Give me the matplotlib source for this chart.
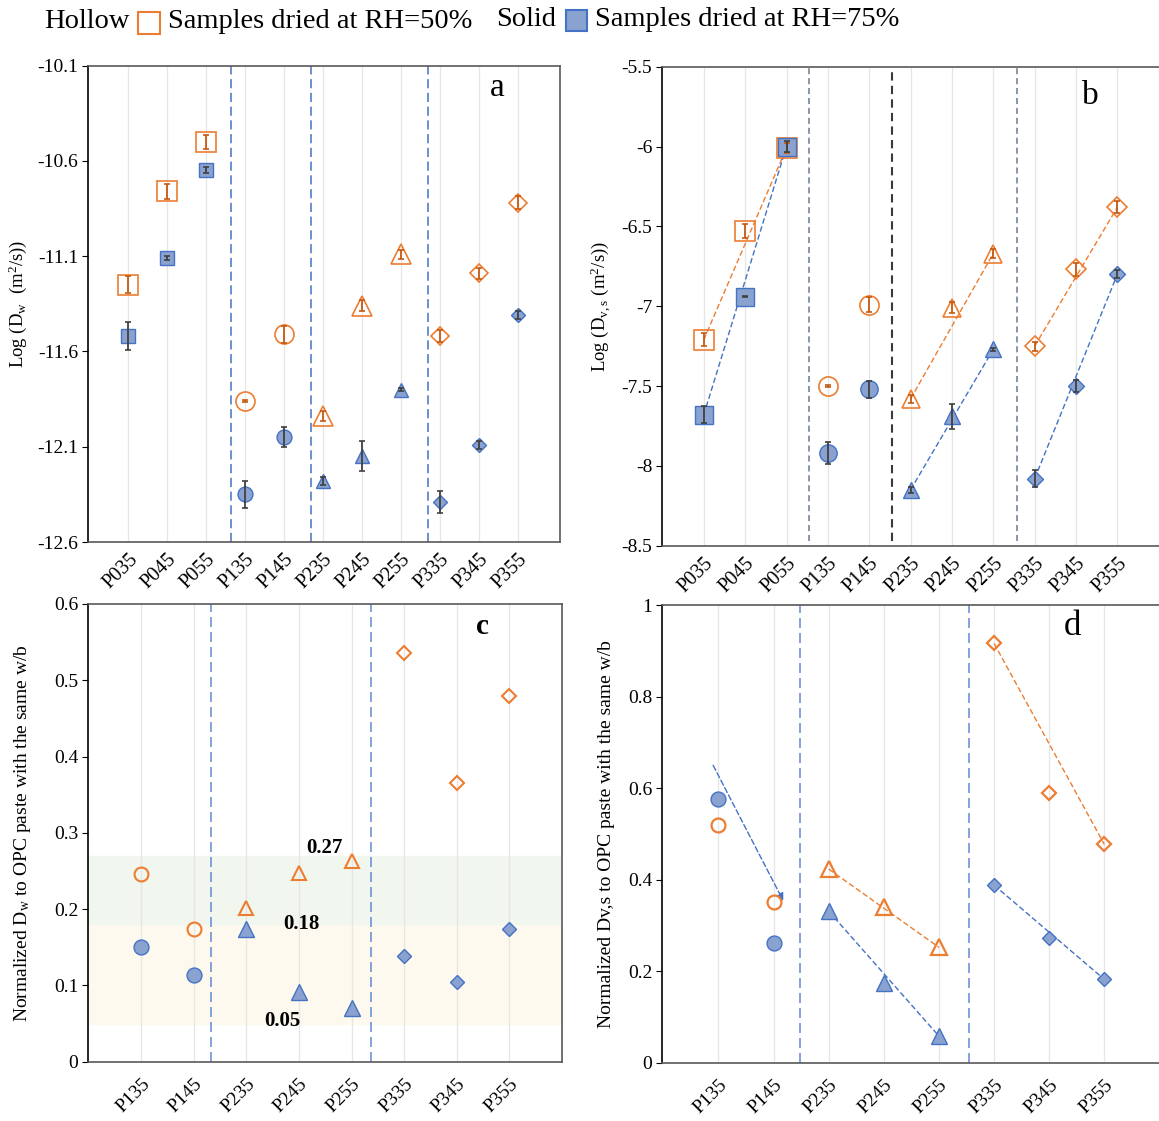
import numpy as np
import matplotlib
matplotlib.use('Agg')
import matplotlib.pyplot as plt
from matplotlib.patches import Rectangle, FancyArrowPatch
from matplotlib.ticker import FormatStrFormatter

plt.rcParams['font.family'] = ['Liberation Serif', 'DejaVu Serif']
plt.rcParams['mathtext.fontset'] = 'custom'
plt.rcParams['mathtext.rm'] = 'Liberation Serif'
plt.rcParams['mathtext.it'] = 'Liberation Serif:italic'
plt.rcParams['axes.unicode_minus'] = False

# ---- data -------------------------------------------------------------
samples_ab = ['P035', 'P045', 'P055', 'P135', 'P145', 'P235', 'P245', 'P255',
              'P335', 'P345', 'P355']
samples_cd = ['P135', 'P145', 'P235', 'P245', 'P255', 'P335', 'P345', 'P355']

# a: log water diffusivity
log_dw_50 = [-11.25, -10.76, -10.50, -11.86, -11.51, -11.94, -11.36, -11.09,
             -11.52, -11.19, -10.82]
log_dw_50_err = [0.045, 0.04, 0.037, 0.005, 0.044, 0.026, 0.029, 0.024,
                 0.03, 0.03, 0.035]
log_dw_75 = [-11.52, -11.11, -10.65, -12.35, -12.05, -12.28, -12.15, -11.80,
             -12.39, -12.09, -11.41]
log_dw_75_err = [0.072, 0.008, 0.015, 0.07, 0.052, 0.022, 0.08, 0.01,
                 0.056, 0.02, 0.022]

# b: log vapour diffusivity
log_dvs_50 = [-7.21, -6.53, -6.01, -7.50, -6.99, -7.58, -7.01, -6.67,
              -7.25, -6.77, -6.38]
log_dvs_50_err = [0.042, 0.045, 0.03, 0.005, 0.045, 0.026, 0.034, 0.031,
                  0.028, 0.04, 0.036]
log_dvs_75 = [-7.68, -6.94, -6.00, -7.92, -7.52, -8.15, -7.69, -7.27,
              -8.08, -7.50, -6.80]
log_dvs_75_err = [0.052, 0.005, 0.036, 0.068, 0.052, 0.02, 0.078, 0.01,
                  0.053, 0.04, 0.026]

# c: normalized Dw
norm_dw_50 = [0.246, 0.174, 0.202, 0.248, 0.263, 0.536, 0.366, 0.479]
norm_dw_75 = [0.150, 0.114, 0.174, 0.092, 0.071, 0.138, 0.105, 0.174]
band_edges = [0.05, 0.18, 0.27]

# d: normalized Dv,s
norm_dvs_50 = [0.519, 0.352, 0.423, 0.341, 0.252, 0.916, 0.589, 0.477]
norm_dvs_75 = [0.576, 0.261, 0.331, 0.175, 0.058, 0.388, 0.272, 0.182]

# ---- styles -----------------------------------------------------------
ORANGE = '#ED7D31'
ORANGE_ERR = '#C55A11'
BLUE = '#4472C4'
BLUE_FILL = '#8AA2CF'
GRAY_ERR = '#404040'
MARKERS = {'0': 's', '1': 'o', '2': '^', '3': 'D'}

fig = plt.figure(figsize=(11.59, 11.21), dpi=100)
W, H = 1159, 1121


def add_axes_px(left, top, right, bottom):
    return fig.add_axes([left / W, 1 - bottom / H, (right - left) / W,
                         (bottom - top) / H])


def style_axes(ax, names, xlim, ylim, yticks, fmt, label_pad, label_size):
    ax.set_xlim(*xlim)
    ax.set_ylim(*ylim)
    ax.set_xticks(range(len(names)))
    ax.set_xticklabels(names, rotation=45, ha='right', rotation_mode='anchor',
                       fontsize=label_size)
    ax.set_yticks(yticks)
    ax.yaxis.set_major_formatter(FormatStrFormatter(fmt))
    ax.tick_params(axis='x', length=0, pad=label_pad)
    ax.tick_params(axis='y', length=4, direction='out', labelsize=14, pad=3)
    ax.grid(axis='x', color='#e6e6e6', lw=0.9)
    ax.set_axisbelow(True)
    for side in ['top', 'right', 'bottom']:
        ax.spines[side].set_color('#595959')
        ax.spines[side].set_linewidth(1.2)
    ax.spines['left'].set_color('black')
    ax.spines['left'].set_linewidth(1.2)


def draw_points(ax, names, values, errs, hollow, sizes, edge_lw):
    for i, (name, v) in enumerate(zip(names, values)):
        m = MARKERS[name[1]]
        if hollow:
            ax.plot(i, v, marker=m, ms=sizes[m], mfc='none', mec=ORANGE,
                    mew=edge_lw, ls='none', zorder=3)
        else:
            ax.plot(i, v, marker=m, ms=sizes[m], mfc=BLUE_FILL, mec=BLUE,
                    mew=edge_lw, ls='none', zorder=4)
    if errs is not None:
        ax.errorbar(range(len(names)), values, yerr=errs, fmt='none',
                    ecolor=ORANGE_ERR if hollow else GRAY_ERR,
                    elinewidth=1.3, capsize=2.2, capthick=1.2,
                    zorder=5)


def group_lines(ax, names, values, color, groups):
    # straight dashed line from the first to the last sample of a series
    for g in groups:
        idx = [i for i, n in enumerate(names) if n[1] == g]
        ax.plot([idx[0], idx[-1]], [values[idx[0]], values[idx[-1]]],
                color=color, ls=(0, (4, 2)), lw=1.0, zorder=2)


# ---- legend row -------------------------------------------------------
fig.text(44 / W, 1 - 22 / H, 'Hollow', fontsize=20.5, va='center')
fig.patches.append(Rectangle((138 / W, 1 - 34 / H), 22 / W, 22 / H,
                             transform=fig.transFigure, fc='white',
                             ec=ORANGE, lw=1.5))
fig.text(168 / W, 1 - 22 / H, 'Samples dried at RH=50%', fontsize=20.5,
         va='center')
fig.text(496 / W, 1 - 19 / H, 'Solid', fontsize=20.5, va='center')
fig.patches.append(Rectangle((566 / W, 1 - 31 / H), 21 / W, 21 / H,
                             transform=fig.transFigure, fc=BLUE_FILL,
                             ec=BLUE, lw=1.5))
fig.text(595 / W, 1 - 19 / H, 'Samples dried at RH=75%', fontsize=20.5,
         va='center')

# ---- panel a ------------------------------------------------------------
ax_a = add_axes_px(88, 65.5, 560, 542)
style_axes(ax_a, samples_ab, (-1.03, 11.08), (-12.6, -10.1),
           np.arange(-12.6, -10.05, 0.5), '%.1f', 6, 14.5)
for xs in [2.64, 4.69, 7.69]:
    ax_a.axvline(xs, color=BLUE, ls=(0, (6, 3)), lw=1.1, zorder=1)
draw_points(ax_a, samples_ab, log_dw_50, log_dw_50_err, True,
            {'s': 14.4, 'o': 13.7, '^': 14, 'D': 9.4}, 1.2)
draw_points(ax_a, samples_ab, log_dw_75, log_dw_75_err, False,
            {'s': 10.6, 'o': 10.7, '^': 10.7, 'D': 6.8}, 1.0)
ax_a.set_ylabel('Log (D$_\\mathrm{w}$  (m$^2$/s))', fontsize=13.5)
ax_a.yaxis.set_label_coords(-0.125, 0.5)
ax_a.text(0.867, 0.953, 'a', transform=ax_a.transAxes, fontsize=24,
          ha='center', va='center')

# ---- panel b ------------------------------------------------------------
ax_b = add_axes_px(662, 66.7, 1160, 545.7)
style_axes(ax_b, samples_ab, (-1.01, 11.03), (-8.5, -5.5),
           np.arange(-8.5, -5.45, 0.5), '%g', 6, 14.5)
for xs, c, lw in [(2.55, '#6b7a8f', 1.1), (4.55, '#3a3a3a', 1.5),
                  (7.57, '#6b7a8f', 1.1)]:
    ax_b.axvline(xs, ymin=0.01, ymax=1, color=c, ls=(0, (4, 2.5)), lw=lw,
                 zorder=1)
group_lines(ax_b, samples_ab, log_dvs_50, ORANGE, ['0', '2', '3'])
group_lines(ax_b, samples_ab, log_dvs_75, BLUE, ['0', '2', '3'])
draw_points(ax_b, samples_ab, log_dvs_50, log_dvs_50_err, True,
            {'s': 13.9, 'o': 13.8, '^': 13.3, 'D': 9.8}, 1.2)
draw_points(ax_b, samples_ab, log_dvs_75, log_dvs_75_err, False,
            {'s': 12.3, 'o': 12.5, '^': 12.2, 'D': 7.9}, 1.0)
ax_b.set_ylabel('Log (D$_\\mathrm{v,s}$ (m$^2$/s))', fontsize=13.5)
ax_b.yaxis.set_label_coords(-0.098, 0.5)
ax_b.text(0.861, 0.939, 'b', transform=ax_b.transAxes, fontsize=24,
          ha='center', va='center')

# ---- panel c ------------------------------------------------------------
ax_c = add_axes_px(88, 604, 562, 1061.7)
style_axes(ax_c, samples_cd, (-1.01, 8.0), (0, 0.6),
           np.arange(0, 0.61, 0.1), '%g', 10, 14)
ax_c.axhspan(band_edges[0], band_edges[1], color='#FEF9EE', zorder=0)
ax_c.axhspan(band_edges[1], band_edges[2], color='#F1F6EE', zorder=0)
for xs in [1.33, 4.37]:
    ax_c.axvline(xs, color='#6F93D6', ls=(0, (6, 3)), lw=1.2, zorder=1)
draw_points(ax_c, samples_cd, norm_dw_50, None, True,
            {'o': 10, '^': 10.3, 'D': 7.0}, 1.5)
draw_points(ax_c, samples_cd, norm_dw_75, None, False,
            {'o': 10.7, '^': 11.5, 'D': 7.3}, 1.0)
ax_c.text(3.49, band_edges[2] + 0.01, '%.2f' % band_edges[2], fontsize=15,
          fontweight='bold', ha='center', va='center')
ax_c.text(3.05, band_edges[1], '%.2f' % band_edges[1], fontsize=15,
          fontweight='bold', ha='center', va='center')
ax_c.text(2.69, band_edges[0] + 0.004, '%.2f' % band_edges[0], fontsize=15,
          fontweight='bold', ha='center', va='center')
ax_c.set_ylabel('Normalized D$_\\mathrm{w}$ to OPC paste with the same w/b',
                fontsize=14)
ax_c.yaxis.set_label_coords(-0.116, 0.5)
ax_c.text(0.833, 0.95, 'c', transform=ax_c.transAxes, fontsize=21,
          fontweight='bold', ha='center', va='center')

# ---- panel d ------------------------------------------------------------
ax_d = add_axes_px(662, 605, 1160, 1062.7)
style_axes(ax_d, samples_cd, (-1.025, 8.01), (0, 1),
           np.arange(0, 1.01, 0.2), '%g', 10, 14)
for xs in [1.47, 4.54]:
    ax_d.axvline(xs, color='#6F93D6', ls=(0, (6, 3)), lw=1.2, zorder=1)
group_lines(ax_d, samples_cd, norm_dvs_50, ORANGE, ['2', '3'])
group_lines(ax_d, samples_cd, norm_dvs_75, BLUE, ['2', '3'])
ax_d.add_patch(FancyArrowPatch((-0.12, 0.655), (1.2, 0.348),
                               arrowstyle='-|>', mutation_scale=11,
                               color=BLUE, lw=1.0, ls=(0, (4, 2)), zorder=2))
draw_points(ax_d, samples_cd, norm_dvs_50, None, True,
            {'o': 10, '^': 11, 'D': 7.5}, 1.6)
draw_points(ax_d, samples_cd, norm_dvs_75, None, False,
            {'o': 10.7, '^': 11.5, 'D': 7.5}, 1.0)
ax_d.set_ylabel('Normalized Dv,s to OPC paste with the same w/b',
                fontsize=14)
ax_d.yaxis.set_label_coords(-0.094, 0.5)
ax_d.text(0.825, 0.952, 'd', transform=ax_d.transAxes, fontsize=25,
          ha='center', va='center')

fig.savefig('out.png', dpi=100)
